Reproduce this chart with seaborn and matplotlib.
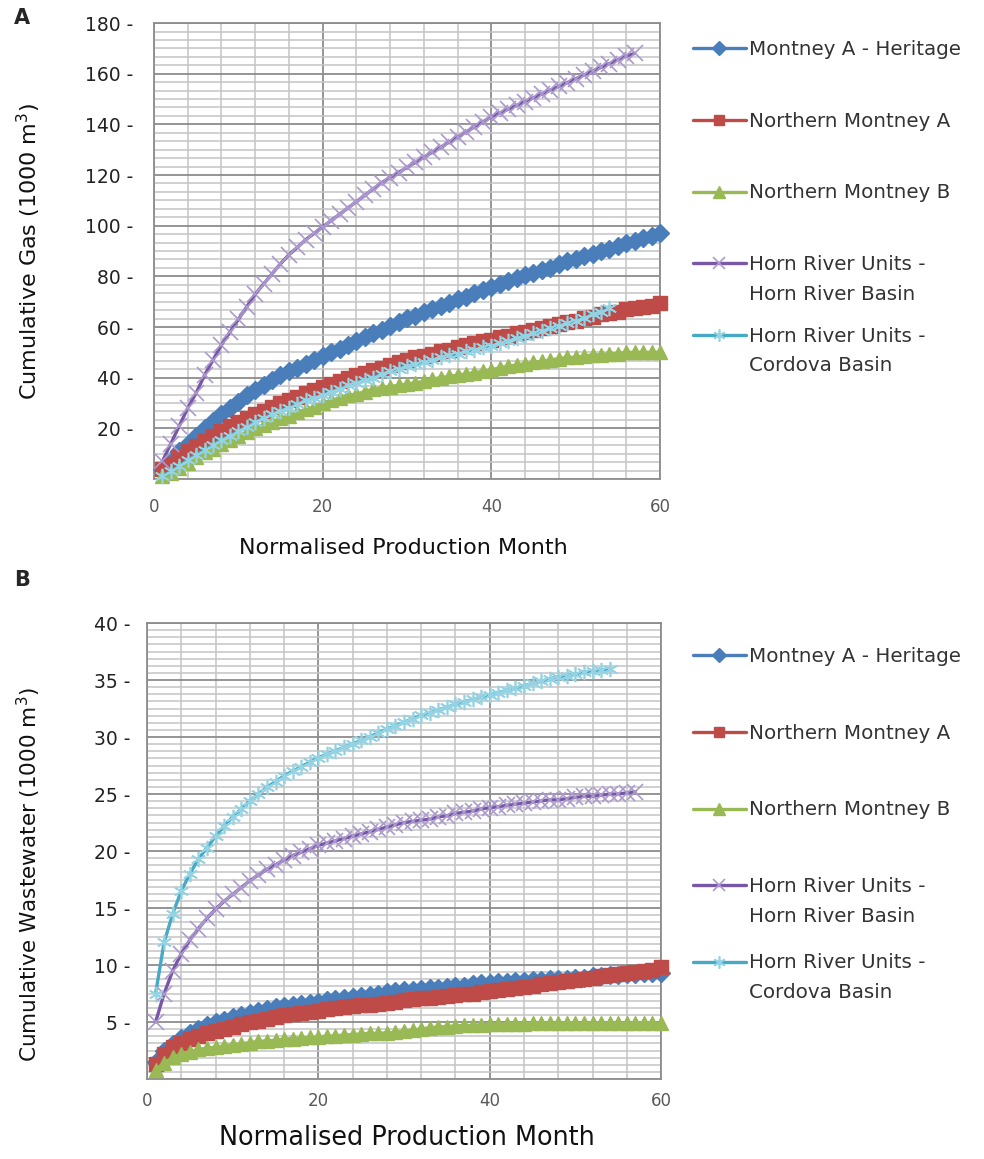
import matplotlib
matplotlib.use("Agg")
import matplotlib.pyplot as plt
import seaborn as sns
import pandas as pd
from matplotlib.ticker import MultipleLocator

# ---------------- data ----------------
series_names = ["Montney A - Heritage", "Northern Montney A", "Northern Montney B",
                "Horn River Units -\nHorn River Basin", "Horn River Units -\nCordova Basin"]

gas_montney_a_heritage = [4, 7.5, 11, 14, 17, 20, 23, 25.5, 28, 30.5, 33, 35, 37, 39, 41, 42.5, 44, 45.5, 47, 48.5,
                          50, 51.5, 53, 54.5, 56, 57.5, 59, 60.5, 62, 63.5, 64.5, 66, 67, 68.5, 69.5, 71, 72, 73.5, 74.5, 76,
                          77, 78, 79.5, 80.5, 81.5, 82.5, 83.5, 85, 86, 87, 88, 89, 90, 91, 92, 93, 94, 95, 96, 97]
gas_northern_montney_a = [4, 6, 8.5, 11, 13, 15, 17, 19, 21, 22.5, 24, 25.5, 27, 28.5, 30, 31, 32.5, 34, 35, 36.5,
                          37.5, 38.5, 40, 41, 42, 43, 44, 45, 46, 47, 48, 48.5, 49.5, 50.5, 51, 52, 53, 53.5, 54.5, 55,
                          56, 56.5, 57.5, 58, 59, 59.5, 60.5, 61, 62, 62.5, 63.5, 64, 65, 65.5, 66, 67, 67.5, 68, 68.5, 69.5]
gas_northern_montney_b = [1, 2.5, 4.5, 6.5, 8.5, 10.5, 12, 14, 15.5, 17, 18.5, 20, 21.5, 22.5, 24, 25, 26.5, 27.5, 28.5, 30,
                          31, 32, 33, 33.5, 34.5, 35.5, 36, 36.5, 37, 37.5, 38, 38.5, 39.5, 40, 40.5, 41, 41.5, 42, 42.5, 43,
                          44, 44.5, 45, 45.5, 46, 46.5, 47, 47.5, 48, 48, 48.5, 49, 49, 49.5, 49.5, 50, 50, 50, 50, 50]
gas_horn_river_basin = [7, 14, 21, 28, 34, 41, 47, 53, 58, 63, 68, 73, 77, 81, 85, 88.5, 91.5, 94.5, 97, 99.5,
                        102, 104.5, 107, 109.5, 112, 114.5, 117, 119, 121, 123, 125, 127, 129, 131, 133, 135, 137, 139, 141, 143,
                        144.5, 146, 147.5, 149, 150.5, 152, 153.5, 155, 156.5, 158, 159.5, 161, 162.5, 164, 165.5, 167, 168]
gas_cordova_basin = [1, 3, 5, 7.5, 9.5, 11.5, 13.5, 15.5, 17, 19, 20.5, 22.5, 24, 25.5, 27, 28, 29.5, 31, 32, 33,
                     34.5, 35.5, 37, 38, 39, 40, 41.5, 42.5, 43.5, 44.5, 45.5, 46, 47, 48, 49, 49.5, 50.5, 51, 52, 52.5,
                     53.5, 54.5, 55.5, 56.5, 57.5, 58.5, 59.5, 60.5, 61.5, 62.5, 63.5, 65, 66, 67.5]

water_montney_a_heritage = [1.5, 2.5, 3.1, 3.6, 4.0, 4.4, 4.7, 5.0, 5.2, 5.4, 5.6, 5.8, 6.0, 6.1, 6.3, 6.4, 6.5, 6.6, 6.7, 6.8,
                            6.9, 7.0, 7.1, 7.2, 7.3, 7.4, 7.5, 7.6, 7.7, 7.8, 7.8, 7.9, 8.0, 8.0, 8.1, 8.2, 8.2, 8.3, 8.4, 8.4,
                            8.5, 8.5, 8.6, 8.6, 8.7, 8.7, 8.8, 8.8, 8.8, 8.9, 8.9, 9.0, 9.0, 9.1, 9.1, 9.2, 9.2, 9.3, 9.3, 9.3]
water_northern_montney_a = [1.3, 2.2, 2.8, 3.2, 3.5, 3.8, 4.0, 4.2, 4.4, 4.6, 4.8, 5.0, 5.1, 5.3, 5.4, 5.6, 5.7, 5.8, 5.9, 6.0,
                            6.1, 6.2, 6.3, 6.4, 6.5, 6.5, 6.6, 6.7, 6.8, 6.9, 7.0, 7.1, 7.1, 7.2, 7.3, 7.4, 7.5, 7.5, 7.6, 7.7,
                            7.8, 7.9, 8.0, 8.1, 8.2, 8.3, 8.4, 8.5, 8.6, 8.7, 8.8, 8.9, 9.0, 9.1, 9.2, 9.3, 9.4, 9.5, 9.6, 9.8]
water_northern_montney_b = [0.8, 1.4, 1.9, 2.2, 2.4, 2.6, 2.7, 2.8, 2.9, 3.0, 3.1, 3.2, 3.3, 3.35, 3.4, 3.5, 3.55, 3.6, 3.65, 3.7,
                            3.75, 3.8, 3.85, 3.9, 3.95, 4.0, 4.0, 4.05, 4.1, 4.2, 4.3, 4.4, 4.5, 4.55, 4.6, 4.65, 4.7, 4.7, 4.75, 4.8,
                            4.8, 4.8, 4.85, 4.85, 4.9, 4.9, 4.9, 4.9, 4.9, 4.9, 4.9, 4.9, 4.9, 4.9, 4.9, 4.9, 4.9, 4.9, 4.9, 4.9]
water_horn_river_basin = [5, 7.5, 9.5, 11, 12.2, 13.2, 14.1, 14.9, 15.6, 16.2, 16.8, 17.4, 17.9, 18.4, 18.8, 19.2, 19.6, 19.9, 20.2, 20.5,
                          20.7, 20.9, 21.1, 21.3, 21.5, 21.7, 21.9, 22.1, 22.3, 22.5, 22.6, 22.7, 22.8, 23.0, 23.1, 23.3, 23.4, 23.5, 23.7, 23.8,
                          23.9, 24.0, 24.1, 24.2, 24.3, 24.4, 24.5, 24.5, 24.6, 24.7, 24.8, 24.8, 24.9, 25.0, 25.0, 25.1, 25.2]
water_cordova_basin = [7.5, 12, 14.5, 16.5, 18, 19.3, 20.3, 21.3, 22.2, 23, 23.7, 24.4, 25, 25.6, 26.1, 26.6, 27, 27.4, 27.8, 28.2,
                       28.5, 28.8, 29.1, 29.4, 29.7, 30, 30.4, 30.7, 31, 31.3, 31.6, 31.9, 32.1, 32.4, 32.6, 32.9, 33.1, 33.3, 33.5, 33.7,
                       33.9, 34.1, 34.3, 34.5, 34.7, 34.9, 35.1, 35.3, 35.4, 35.5, 35.7, 35.8, 35.9, 36]

gas_yticks = [20, 40, 60, 80, 100, 120, 140, 160, 180]
water_yticks = [5, 10, 15, 20, 25, 30, 35, 40]
xticks = [0, 20, 40, 60]

# ---------------- styles ----------------
line_colors = ["#4A7EBB", "#BE4B48", "#98B954", "#7857A6", "#46AAC5"]
marker_edge = ["#4A7EBB", "#BE4B48", "#98B954", "#AC9ACF", "#93D3E3"]
marker_face = ["#4A7EBB", "#BE4B48", "#98B954", "none", "none"]
markers = ["D", "s", "^", "x", (6, 2, 0)]
msizes = [9.5, 9.5, 10, 11, 11]
mews = [1, 1, 1, 1.2, 1.2]

sns.set_theme(style="white")
plt.rcParams["font.family"] = ["DejaVu Sans"]

fig = plt.figure(figsize=(9.84, 11.59), dpi=100)
ax1 = fig.add_axes([0.1565, 0.5867, 0.5142, 0.3934])
ax2 = fig.add_axes([0.1494, 0.0690, 0.5224, 0.3934])


def draw(ax, data_lists):
    for i, vals in enumerate(data_lists):
        df = pd.DataFrame({"month": list(range(1, len(vals) + 1)), "value": vals})
        sns.lineplot(data=df, x="month", y="value", ax=ax, color=line_colors[i],
                     linewidth=2.4, marker=markers[i], markersize=msizes[i],
                     markerfacecolor=marker_face[i], markeredgecolor=marker_edge[i],
                     markeredgewidth=mews[i], label=series_names[i], clip_on=False,
                     zorder=3 + i)


def style(ax, yticks, ymax, yminor, xlabel, ylabel, ytick_pad, xtick_pad, xl_size, yl_size):
    ax.set_xlim(0, 60)
    ax.set_ylim(0, ymax)
    ax.set_xticks(xticks)
    ax.set_xticklabels([str(v) for v in xticks], color="#595959", fontsize=12)
    ax.set_yticks(yticks)
    ax.set_yticklabels([f"{v} -" for v in yticks], color="#222222", fontsize=13.5)
    ax.xaxis.set_minor_locator(MultipleLocator(4))
    ax.yaxis.set_minor_locator(MultipleLocator(yminor))
    ax.tick_params(which="both", length=0)
    ax.tick_params(axis="y", pad=ytick_pad)
    ax.tick_params(axis="x", pad=xtick_pad)
    ax.grid(which="major", color="#8C8C8C", linewidth=1.3)
    ax.grid(which="minor", color="#C4C4C4", linewidth=1.1)
    ax.set_axisbelow(True)
    for s in ax.spines.values():
        s.set_color("#8C8C8C")
        s.set_linewidth(1.3)
    ax.set_xlabel(xlabel, fontsize=xl_size, color="#111111")
    ax.set_ylabel(ylabel, fontsize=yl_size, color="#111111")


draw(ax1, [gas_montney_a_heritage, gas_northern_montney_a, gas_northern_montney_b,
           gas_horn_river_basin, gas_cordova_basin])
draw(ax2, [water_montney_a_heritage, water_northern_montney_a, water_northern_montney_b,
           water_horn_river_basin, water_cordova_basin])

style(ax1, gas_yticks, 180, 20 / 6, "Normalised Production Month", "Cumulative Gas (1000 m$^3$)",
      15, 14, 16, 16)
style(ax2, water_yticks, 40, 5 / 8, "Normalised Production Month", "Cumulative Wastewater (1000 m$^3$)",
      12, 9, 18.4, 15.5)

ax1.xaxis.label.set_va("center")
ax1.xaxis.set_label_coords(403 / 984, 1 - 548 / 1159, transform=fig.transFigure)
ax2.xaxis.label.set_va("center")
ax2.xaxis.set_label_coords(407 / 984, 1 - 1138 / 1159, transform=fig.transFigure)
ax1.yaxis.label.set_va("center")
ax1.yaxis.set_label_coords(29 / 984, 1 - 251 / 1159, transform=fig.transFigure)
ax2.yaxis.label.set_va("center")
ax2.yaxis.set_label_coords(29 / 984, 1 - 875 / 1159, transform=fig.transFigure)

for ax, top, sp in [(ax1, 40, 1.15), (ax2, 647, 1.4)]:
    h, l = ax.get_legend_handles_labels()
    # pad single-line entries to two lines so every entry has the same pitch
    l2 = [s if "\n" in s else s + "\n " for s in l]
    leg = ax.legend(h, l2, loc="upper left", bbox_to_anchor=(693 / 984, 1 - top / 1159),
                    bbox_transform=fig.transFigure, frameon=False, fontsize=14.3,
                    labelspacing=sp, handlelength=2.65, handletextpad=0.15,
                    handleheight=1.15, borderpad=0, borderaxespad=0, markerscale=0.8)
    for t in leg.get_texts():
        t.set_color("#333333")
        t.set_linespacing(1.72)
    try:
        for hp in leg._legend_handle_box.get_children():
            for row in hp.get_children():
                row.align = "top"
    except Exception:
        pass

fig.text(22 / 984, 1 - 18 / 1159, "A", fontsize=15, fontweight="bold", ha="center", va="center")
fig.text(22 / 984, 1 - 580 / 1159, "B", fontsize=15, fontweight="bold", ha="center", va="center")

fig.savefig("out.png", dpi=100)
